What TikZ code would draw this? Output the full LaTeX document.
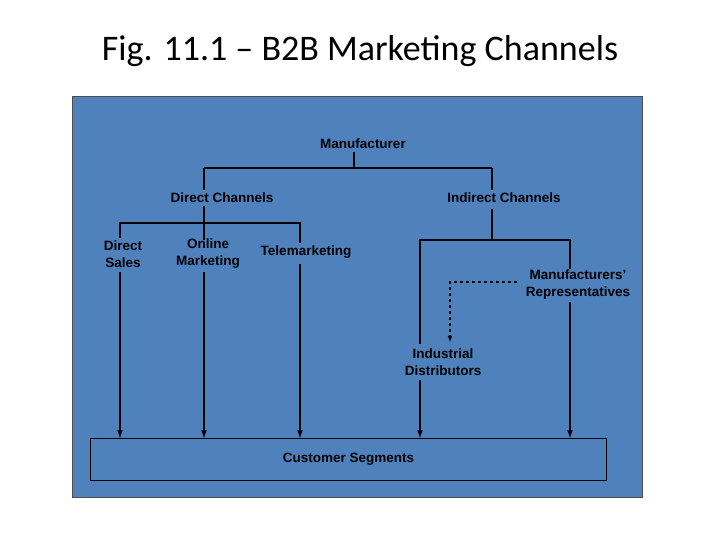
\documentclass[tikz,border=0pt]{standalone}
\usepackage{fontspec}
\setmainfont{Liberation Sans}
\newfontfamily\titlefont{Carlito}
\begin{document}
\begin{tikzpicture}[x=1pt,y=-1pt,
  lbl/.style={font=\bfseries\fontsize{13.5}{17}\selectfont,align=center,text=black,inner sep=1pt},
  ln/.style={draw=black,line width=1.1pt},
  arr/.style={ln,line width=1.6pt,-latex},
  dsh/.style={ln,dashed,-latex}]
\useasboundingbox (0,0) rectangle (720,540);
\node[font=\titlefont\fontsize{36}{40}\selectfont] (title) at (360,51) {Fig. 11.1 – B2B Marketing Channels};
\node[draw=black!70,fill={rgb,255:red,79;green,129;blue,189},minimum width=570,minimum height=401,anchor=north west,inner sep=0] (panel) at (72,96) {};
\node[draw=black,line width=0.8pt,minimum width=516,minimum height=42,anchor=north west,inner sep=0] (cs) at (90,438) {};
\node[lbl] at (cs.center) {Customer Segments};
\node[lbl] (man) at (363,144) {Manufacturer};
\node[lbl] (dc) at (222,198) {Direct Channels};
\node[lbl] (ic) at (504,198) {Indirect Channels};
\node[lbl] (ds) at (123,254) {Direct\\Sales};
\node[lbl] (om) at (208,254) {Online\\Marketing};
\node[lbl] (tm) at (306,252) {Telemarketing};
\node[lbl] (mr) at (578,285) {Manufacturers’\\Representatives};
\node[lbl] (id) at (443,362) {Industrial\\Distributors};
\coordinate (a) at (354,168);
\draw[ln] (354,152) -- (a);
\draw[ln] (204,168) -- (492,168);
\draw[ln] (204,168) -- (204,190);
\draw[ln] (492,168) -- (492,190);
\draw[ln] (204,206) -- (204,240);
\draw[ln] (120,238) |- (300,223) -- (300,243);
\draw[ln] (492,209) -- (492,240);
\draw[ln] (420,344) |- (570,240) -- (570,269);
\draw[arr] (120,272) -- (120,438);
\draw[arr] (204,272) -- (204,438);
\draw[arr] (300,264) -- (300,438);
\draw[arr] (420,380) -- (420,438);
\draw[arr] (570,302) -- (570,438);
\draw[dsh] (517,282) -| (450,342);
\end{tikzpicture}
\end{document}
